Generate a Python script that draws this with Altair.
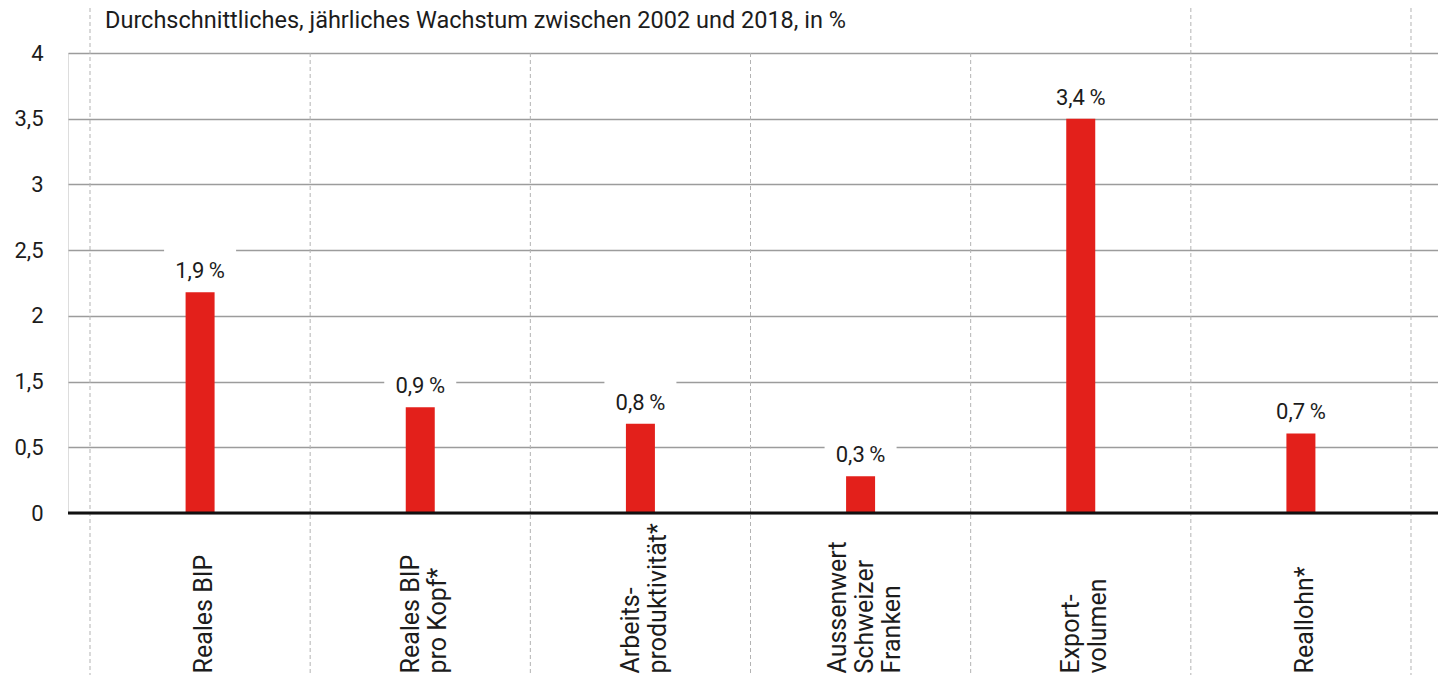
import json
import altair as alt
import pandas as pd

# ---- data ----
categories = [
    "Reales BIP",
    "Reales BIP pro Kopf*",
    "Arbeitsproduktivität*",
    "Aussenwert Schweizer Franken",
    "Exportvolumen",
    "Reallohn*",
]
label_lines = [
    ["Reales BIP"],
    ["Reales BIP", "pro Kopf*"],
    ["Arbeits-", "produktivität*"],
    ["Aussenwert", "Schweizer", "Franken"],
    ["Export-", "volumen"],
    ["Reallohn*"],
]
# bar heights as read against the printed y axis
bar_heights = [2.18, 1.11, 0.86, 0.28, 3.5, 0.71]
# printed annotations above the bars (in %)
annotations = [1.9, 0.9, 0.8, 0.3, 3.4, 0.7]
# printed y-axis tick labels (note: no "1" on the original axis)
y_ticks = [0, 0.5, 1.5, 2, 2.5, 3, 3.5, 4]
title_text = "Durchschnittliches, jährliches Wachstum zwischen 2002 und 2018, in %"

df = pd.DataFrame({
    "cat": categories,
    "val": bar_heights,
    "lab": [f"{a:.1f}".replace(".", ",") + "\u2009%" for a in annotations],
})

W, H = 1370, 460
FONT = "Roboto"
TXT = "#1c1c1c"
RED = "#e3201b"
LH = 27

# evenly spaced gridlines for the printed (uneven) tick values
y_scale = alt.Scale(domain=[0, 0.5, 1.5, 4], range=[H, H * 6 / 7, H * 5 / 7, 0])
x_scale = alt.Scale(paddingInner=0, paddingOuter=0.1113, align=0.449)

label_expr = " : ".join(
    f"datum.value == {json.dumps(c)} ? {json.dumps(l, ensure_ascii=False)}"
    for c, l in zip(categories, label_lines)
) + " : datum.label"

# centre multi-line label blocks on their band
two = [c for c, l in zip(categories, label_lines) if len(l) == 2]
three = [c for c, l in zip(categories, label_lines) if len(l) == 3]
label_offset = {
    "condition": [
        {"test": f"indexof({json.dumps(two, ensure_ascii=False)}, datum.value) >= 0",
         "value": 4 - LH / 2},
        {"test": f"indexof({json.dumps(three, ensure_ascii=False)}, datum.value) >= 0",
         "value": 4 - LH},
    ],
    "value": 4,
}

x_enc = alt.X(
    "cat:N", sort=categories, scale=x_scale, title=None,
    axis=alt.Axis(
        labelAngle=270, labelAlign="left", labelBaseline="middle",
        labelPadding=160, ticks=False, domain=False, grid=False,
        labelFontSize=25, labelLineHeight=LH, labelFont=FONT, labelColor=TXT,
        labelExpr=label_expr, labelLimit=400, labelOffset=label_offset,
    ),
)
y_enc = alt.Y(
    "val:Q", scale=y_scale, title=None,
    axis=alt.Axis(
        values=y_ticks, labelExpr="replace(toString(datum.value), '.', ',')",
        domain=False, ticks=False, labelPadding=25, labelFontSize=22,
        labelFont=FONT, labelColor=TXT, grid=True, gridColor="#9c9c9c",
        gridWidth=1.3,
    ),
)

base = alt.Chart(df)

bars = base.mark_bar(color=RED, size=29).encode(x=x_enc, y=y_enc)

dash_style = dict(color="#b3b3b3", strokeWidth=1, strokeDash=[4, 3])
# dividers hidden behind the title start at the plot top
under_title = categories[1:5]
dividers_short = base.transform_filter(
    alt.FieldOneOfPredicate(field="cat", oneOf=under_title)
).mark_rule(**dash_style).encode(
    x=alt.X("cat:N", sort=categories, bandPosition=0),
    y=alt.value(0), y2=alt.value(H + 162),
)
dividers_long = base.transform_filter(
    ~alt.FieldOneOfPredicate(field="cat", oneOf=under_title)
).mark_rule(**dash_style).encode(
    x=alt.X("cat:N", sort=categories, bandPosition=0),
    y=alt.value(-45), y2=alt.value(H + 162),
)
last_divider = base.transform_filter(
    alt.datum.cat == categories[-1]
).mark_rule(**dash_style).encode(
    x=alt.X("cat:N", sort=categories, bandPosition=1),
    y=alt.value(-45), y2=alt.value(H + 162),
)

box_path = "M-1,-1.222L1,-1.222L1,-0.139L-1,-0.139Z"
label_boxes = base.mark_point(
    shape=box_path, size=5184, filled=True, fill="white", opacity=1, strokeWidth=0
).encode(x=alt.X("cat:N", sort=categories), y="val:Q")

labels = base.mark_text(
    dy=-21, baseline="middle", fontSize=22, font=FONT, color=TXT
).encode(x=alt.X("cat:N", sort=categories), y="val:Q", text="lab:N")

zero = alt.Chart(pd.DataFrame({"z": [0]})).mark_rule(
    color="#111111", strokeWidth=3
).encode(y=alt.Y("z:Q"))

chart = alt.layer(
    dividers_short, dividers_long, last_divider, label_boxes, bars, zero, labels
).properties(
    width=W, height=H,
    title=alt.TitleParams(
        text=title_text, anchor="start", frame="group", dx=37, dy=25,
        fontSize=23.5, font=FONT, fontWeight="normal", color=TXT,
        offset=-19, baseline="alphabetic",
    ),
    autosize=alt.AutoSizeParams(type="none"),
    padding={"left": 60, "top": 45, "right": 0, "bottom": 162},
).configure_view(stroke=None).configure(background="white")

chart.save("out.html", embed_options={"renderer": "svg", "actions": False})
